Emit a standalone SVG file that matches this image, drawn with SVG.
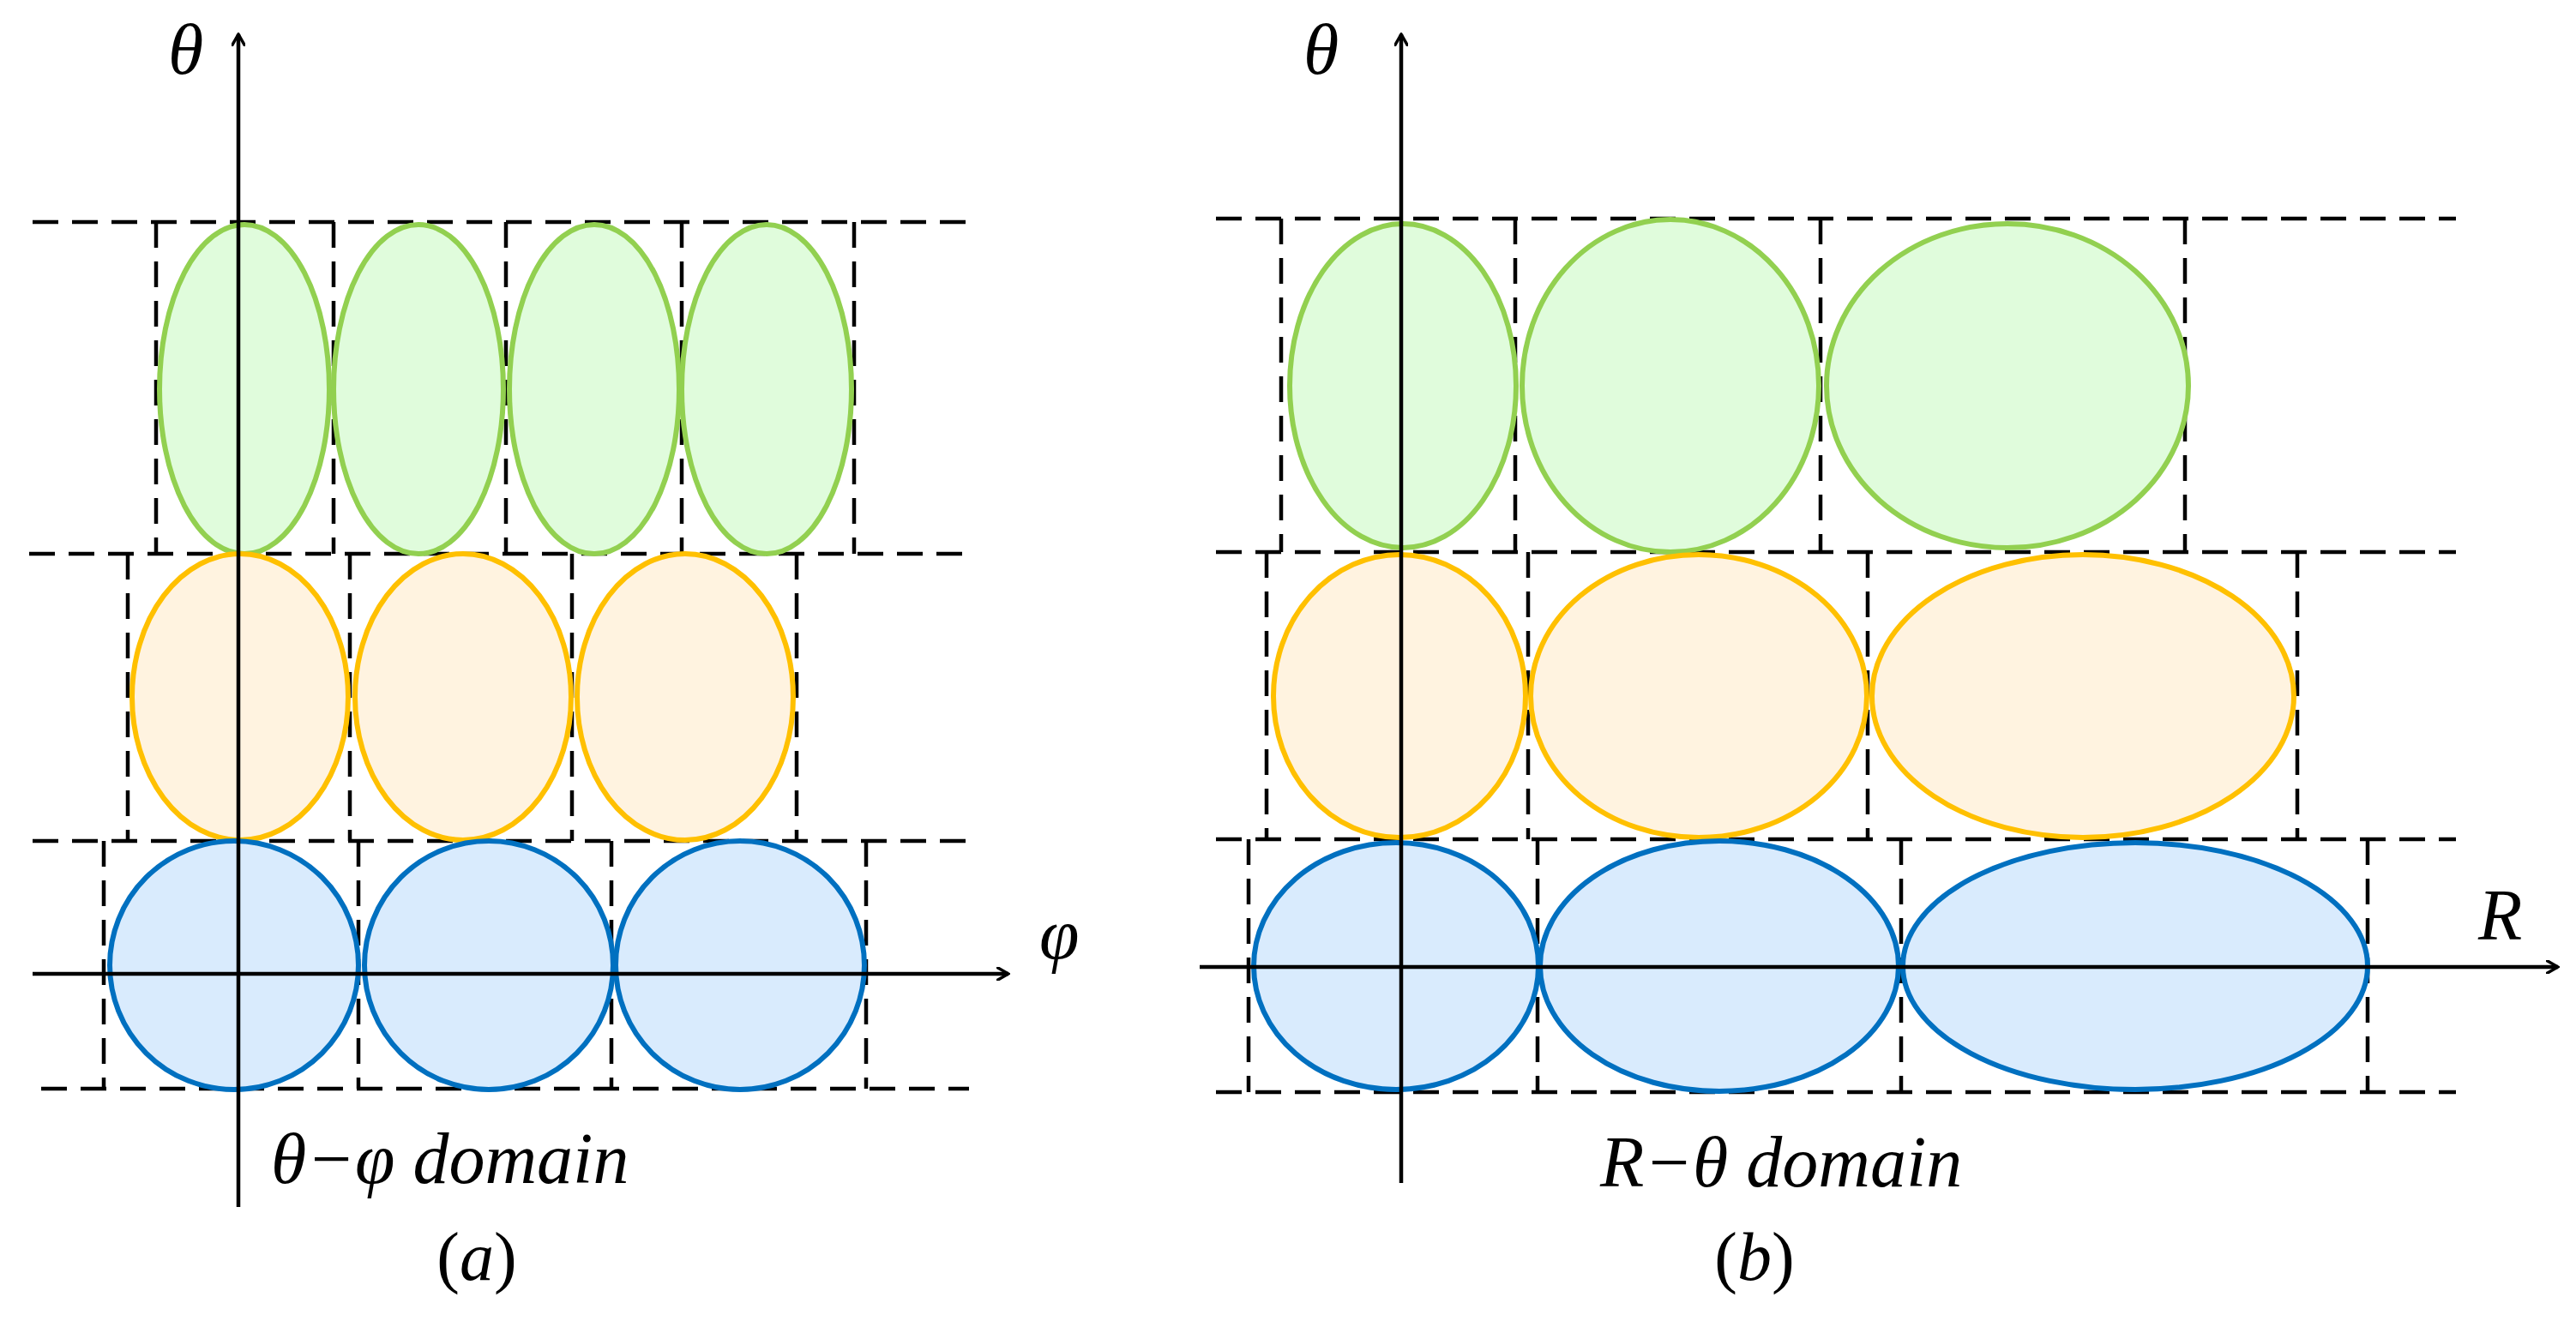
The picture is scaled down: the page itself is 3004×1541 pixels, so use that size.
<svg xmlns="http://www.w3.org/2000/svg" width="3004" height="1541" viewBox="0 0 3004 1541">
<style>
.d{stroke:#000;stroke-width:4.5;stroke-dasharray:30 16;fill:none}
.ax{stroke:#000;stroke-width:4.5;fill:none}
.g{fill:#E0FCDC;stroke:#92D050;stroke-width:6}
.o{fill:#FFF3E0;stroke:#FFC000;stroke-width:6}
.b{fill:#D9EBFD;stroke:#0070C0;stroke-width:6}
text{font-family:"Liberation Serif","Times New Roman","DejaVu Serif",serif;font-style:italic;fill:#000}
.t{font-size:84px}
.p{font-size:80px;font-style:normal}
</style>
<defs><marker id="ar" markerWidth="16" markerHeight="16" refX="14" refY="8" orient="auto" markerUnits="userSpaceOnUse" viewBox="0 0 16 16"><path d="M0,0 L14,8 L0,16" fill="none" stroke="#000" stroke-width="3.5"/></marker></defs>
<g id="grid-a">
<path class="d" d="M38,259H1130M34,646H1130M38,981H1130M48,1270H1130"/>
<path class="d" d="M182,259V646M389,259V646M590,259V646M795,259V646M996,259V646"/>
<path class="d" d="M149,646V981M408,646V981M667,646V981M929,646V981"/>
<path class="d" d="M121,981V1270M418,981V1270M713,981V1270M1010,981V1270"/>
</g>
<g id="ellipses-a">
<ellipse class="g" cx="285" cy="454" rx="99" ry="192"/>
<ellipse class="g" cx="488" cy="454" rx="99" ry="192"/>
<ellipse class="g" cx="693" cy="454" rx="99" ry="192"/>
<ellipse class="g" cx="894" cy="454" rx="99" ry="192"/>
<ellipse class="o" cx="280" cy="813" rx="126" ry="167"/>
<ellipse class="o" cx="540" cy="813" rx="126" ry="167"/>
<ellipse class="o" cx="799" cy="813" rx="126" ry="167"/>
<ellipse class="b" cx="273" cy="1126" rx="145" ry="145"/>
<ellipse class="b" cx="570" cy="1126" rx="145" ry="145"/>
<ellipse class="b" cx="863" cy="1126" rx="145" ry="145"/>
</g>
<g id="grid-b">
<path class="d" d="M1418,255H2864M1418,644H2864M1418,979H2864M1418,1274H2864"/>
<path class="d" d="M1494,255V644M1767,255V644M2123,255V644M2548,255V644"/>
<path class="d" d="M1477,644V979M1782,644V979M2178,644V979M2679,644V979"/>
<path class="d" d="M1456,979V1274M1793,979V1274M2217,979V1274M2761,979V1274"/>
</g>
<g id="ellipses-b">
<ellipse class="g" cx="1636" cy="450" rx="132" ry="189"/>
<ellipse class="g" cx="1948" cy="450" rx="173" ry="194"/>
<ellipse class="g" cx="2341" cy="450" rx="211" ry="189"/>
<ellipse class="o" cx="1632" cy="812" rx="147" ry="165"/>
<ellipse class="o" cx="1981" cy="812" rx="196" ry="165"/>
<ellipse class="o" cx="2429" cy="812" rx="246" ry="165"/>
<ellipse class="b" cx="1628" cy="1127" rx="166" ry="144"/>
<ellipse class="b" cx="2005" cy="1127" rx="209" ry="146"/>
<ellipse class="b" cx="2490" cy="1127" rx="271" ry="144"/>
</g>
<g id="axes">
<path class="ax" d="M278,1408V40" marker-end="url(#ar)"/>
<path class="ax" d="M38,1136H1176" marker-end="url(#ar)"/>
<path class="ax" d="M1634,1380V40" marker-end="url(#ar)"/>
<path class="ax" d="M1399,1128H2983" marker-end="url(#ar)"/>
</g>
<g id="labels">
<text class="t" x="196" y="86">θ</text>
<text class="t" x="1212" y="1118">φ</text>
<text class="t" x="316" y="1380">θ−φ domain</text>
<text class="p" x="556" y="1493" text-anchor="middle">(<tspan font-style="italic">a</tspan>)</text>
<text class="t" x="1520" y="86">θ</text>
<text class="t" x="2890" y="1096">R</text>
<text class="t" x="1866" y="1384">R−θ domain</text>
<text class="p" x="2046" y="1493" text-anchor="middle">(<tspan font-style="italic">b</tspan>)</text>
</g>
</svg>
